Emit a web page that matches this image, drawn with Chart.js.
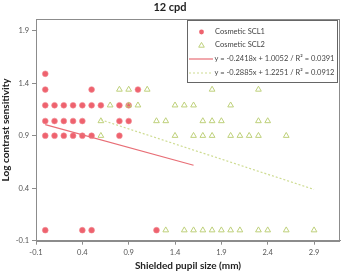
<!DOCTYPE html>
<html><head><meta charset="utf-8">
<script src="https://cdn.jsdelivr.net/npm/chart.js@4/dist/chart.umd.min.js"></script>
<style>html,body{margin:0;padding:0;background:#fff}#wrap{width:346px;height:272px}</style>
</head><body><div id="wrap"><canvas id="c" width="346" height="272"></canvas></div>
<script>
const titleText = "12 cpd";
const xTitle = "Shielded pupil size (mm)";
const yTitle = "Log contrast sensitivity";
const xTicks = [-0.1, 0.4, 0.9, 1.4, 1.9, 2.4, 2.9];
const yTicks = [-0.1, 0.4, 0.9, 1.4, 1.9];
const seriesNames = ["Cosmetic SCL1", "Cosmetic SCL2"];
const scl1X = [0, 0,0.5,1.0, 0,0.1,0.2,0.3,0.4,0.5,0.6,0.8,0.9, 0,0.1,0.2,0.3,0.4,0.8,0.9, 0,0.1,0.2,0.3,0.4,0.5,0.8, 0,0.4,0.5,1.2];
const scl1Y = [1.49, 1.34,1.34,1.34, 1.19,1.19,1.19,1.19,1.19,1.19,1.19,1.19,1.19, 1.04,1.04,1.04,1.04,1.04,1.04,1.04, 0.9,0.9,0.9,0.9,0.9,0.9,0.9, 0,0,0,0];
const scl2X = [0.8,0.9,1.1,1.8,2.3, 0.7,0.9,1.0,1.4,1.5,1.6,2.0, 0.6,1.2,1.3,1.7,1.8,1.9,2.3,2.4, 0.6,1.4,1.6,1.7,1.8,2.0,2.1,2.2,2.3,2.6, 1.3,1.5,1.6,1.7,1.8,1.9,2.0,2.1,2.3,2.4,2.6,2.9];
const scl2Y = [1.34,1.34,1.34,1.34,1.34, 1.19,1.19,1.19,1.19,1.19,1.19,1.19, 1.04,1.04,1.04,1.04,1.04,1.04,1.04,1.04, 0.9,0.9,0.9,0.9,0.9,0.9,0.9,0.9,0.9,0.9, 0,0,0,0,0,0,0,0,0,0,0,0];
const trendSlopes = [-0.2418, -0.2885];
const trendIntercepts = [1.0052, 1.2251];
const trendR2 = [0.0391, 0.0912];
const trendXRange = [[0, 1.6], [0.6, 2.9]];

const FONT = "Lato, 'Open Sans', sans-serif";
const RED = 'rgb(238,98,110)';
const GREEN = 'rgb(190,208,122)';
const REDLINE = 'rgb(232,110,118)';
const GREENLINE = 'rgb(206,220,146)';

const pts = (xs, ys) => xs.map((x, i) => ({x, y: ys[i]}));
const trend = i => trendXRange[i].map(x => ({x, y: trendSlopes[i] * x + trendIntercepts[i]}));
const eq = i => `y = ${trendSlopes[i].toFixed(4)}x + ${trendIntercepts[i].toFixed(4)} / R² = ${trendR2[i].toFixed(4)}`;

const frameAndLegend = {
  id: 'frameAndLegend',
  afterDraw(chart) {
    const ctx = chart.ctx, a = chart.chartArea;
    ctx.save();
    ctx.strokeStyle = '#8c8c8c'; ctx.lineWidth = 1;
    ctx.strokeRect(Math.round(a.left) + 0.5, Math.round(a.top) + 0.5, Math.round(a.right - a.left) - 1, Math.round(a.bottom - a.top));
    const bx = 187.5, by = 20.5, bw = 150, bh = 62;
    ctx.fillStyle = '#fff'; ctx.fillRect(bx, by, bw, bh);
    ctx.strokeStyle = '#666'; ctx.strokeRect(bx, by, bw, bh);
    ctx.font = `7.5px ${FONT}`; ctx.fillStyle = '#444'; ctx.textBaseline = 'middle'; ctx.textAlign = 'left';
    const rows = [32, 45, 59, 73];
    ctx.beginPath(); ctx.arc(201.5, rows[0], 2.4, 0, Math.PI * 2); ctx.fillStyle = RED; ctx.fill();
    ctx.fillStyle = '#444'; ctx.fillText(seriesNames[0], 215, rows[0]);
    ctx.beginPath(); ctx.moveTo(201.5, rows[1] - 2.6); ctx.lineTo(204.3, rows[1] + 2.2); ctx.lineTo(198.7, rows[1] + 2.2); ctx.closePath();
    ctx.strokeStyle = GREEN; ctx.stroke();
    ctx.fillStyle = '#444'; ctx.fillText(seriesNames[1], 215, rows[1]);
    ctx.strokeStyle = REDLINE; ctx.lineWidth = 1.2; ctx.beginPath(); ctx.moveTo(189, rows[2]); ctx.lineTo(213, rows[2]); ctx.stroke();
    ctx.fillText(eq(0), 214.5, rows[2]);
    ctx.strokeStyle = GREENLINE; ctx.setLineDash([2, 2]); ctx.beginPath(); ctx.moveTo(189, rows[3]); ctx.lineTo(213, rows[3]); ctx.stroke();
    ctx.setLineDash([]);
    ctx.fillText(eq(1), 214.5, rows[3]);
    ctx.restore();
  }
};

new Chart(document.getElementById('c'), {
  type: 'scatter',
  data: {
    datasets: [
      {label: seriesNames[0], data: pts(scl1X, scl1Y), pointStyle: 'circle', pointRadius: 2.9, backgroundColor: RED, borderColor: 'rgb(242,140,148)', borderWidth: 0.6, order: 3},
      {label: seriesNames[1], data: pts(scl2X, scl2Y), pointStyle: 'triangle', pointRadius: 3.3, backgroundColor: 'rgba(0,0,0,0)', borderColor: GREEN, borderWidth: 1, order: 2},
      {type: 'line', label: 'lin1', data: trend(0), borderColor: REDLINE, borderWidth: 1.2, pointRadius: 0, showLine: true, fill: false, order: 1},
      {type: 'line', label: 'lin2', data: trend(1), borderColor: GREENLINE, borderWidth: 1.2, borderDash: [2, 2], pointRadius: 0, showLine: true, fill: false, order: 1}
    ]
  },
  options: {
    responsive: false, animation: false, devicePixelRatio: 1,
    layout: {padding: {left: 0, right: 6, top: 0, bottom: 0}},
    plugins: {
      legend: {display: false}, tooltip: {enabled: false},
      title: {display: true, text: titleText, color: '#222', font: {family: FONT, size: 11, weight: 'bold', lineHeight: 1.2}, padding: {top: 1, bottom: 5}}
    },
    scales: {
      x: {
        type: 'linear', min: -0.1, max: 3.18,
        afterBuildTicks: s => { s.ticks = xTicks.map(v => ({value: v})); },
        afterFit: s => { s.height = 31.3; },
        ticks: {callback: v => String(Math.round(v * 10) / 10), color: '#555', font: {family: FONT, size: 7.5}, padding: 3, maxRotation: 0},
        grid: {drawOnChartArea: false, drawTicks: true, tickLength: 4, color: '#8c8c8c'},
        border: {display: true, color: '#8c8c8c'},
        title: {display: true, text: xTitle, color: '#222', font: {family: FONT, size: 10, weight: 'bold'}, padding: {top: 0, bottom: 0}}
      },
      y: {
        type: 'linear', min: -0.1, max: 2.01,
        afterBuildTicks: s => { s.ticks = yTicks.map(v => ({value: v})); },
        afterFit: s => { s.width = 36; },
        ticks: {callback: v => String(Math.round(v * 10) / 10), color: '#555', font: {family: FONT, size: 7.5}, padding: 3},
        grid: {drawOnChartArea: false, drawTicks: true, tickLength: 4, color: '#8c8c8c'},
        border: {display: true, color: '#8c8c8c'},
        title: {display: true, text: yTitle, color: '#222', font: {family: FONT, size: 10, weight: 'bold'}, padding: {top: 0, bottom: 0}}
      }
    }
  },
  plugins: [frameAndLegend]
});
</script></body></html>
